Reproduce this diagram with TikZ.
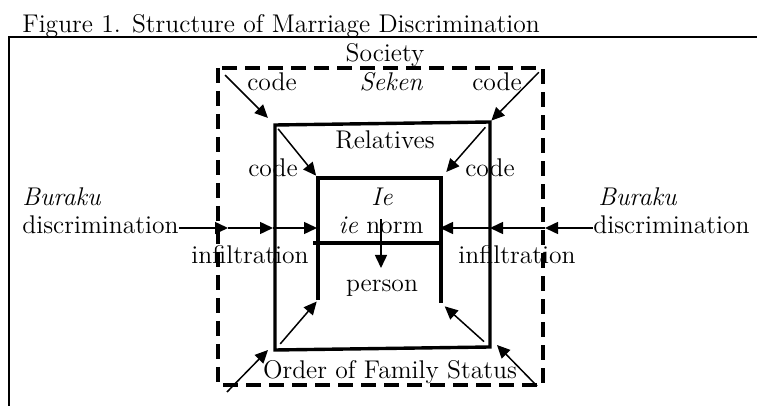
\documentclass[tikz,border=0pt]{standalone}
\usetikzlibrary{arrows.meta}

\begin{document}
\begin{tikzpicture}[x=0.5pt,y=-0.5pt,
  every node/.style={inner sep=0pt,font=\fontsize{12.8}{15}\selectfont},
  lbl/.style={anchor=base},
  lblw/.style={anchor=base west},
  box/.style={line width=1.7pt},
  soc/.style={line width=1.7pt,dash pattern=on 7.5pt off 4pt},
  arr/.style={line width=0.75pt,-{Triangle[length=6.5pt,width=6pt]}}]
\useasboundingbox (0,0) rectangle (757,406);

% frame and title
\draw[line width=1pt] (757,37) -- (9,37) -- (9,406);
\node[lblw] (title) at (22,33) {Figure 1. Structure of Marriage Discrimination};

% Society (dashed)
\coordinate (s1) at (218,68);
\coordinate (s2) at (543,68);
\coordinate (s3) at (543,385);
\draw[soc] (s1) rectangle (s3);

% Relatives
\coordinate (r1) at (275,125);
\coordinate (r2) at (490,122);
\coordinate (r3) at (490,347);
\coordinate (r4) at (275,350);
\draw[box] (r1) -- (r2) -- (r3) -- (r4) -- cycle;

% Ie
\coordinate (i1) at (318,178);
\coordinate (i2) at (441,178);
\coordinate (i3) at (441,303);
\coordinate (i4) at (318,300);
\draw[box] (i4) -- (i1) -- (i2) -- (i3);
\coordinate (m1) at (313,243);
\coordinate (m2) at (441,243);
\draw[box] (m1) -- (m2);

% labels
\node[lbl] (society) at (385,62) {Society};
\node[lbl] (seken) at (391,91) {\itshape Seken};
\node[lbl] (codeA) at (272,91) {code};
\node[lbl] (codeB) at (497,91) {code};
\node[lbl] (relatives) at (385,149) {Relatives};
\node[lbl] (codeC) at (273,177) {code};
\node[lbl] (codeD) at (490,177) {code};
\node[lbl] (ie) at (382,206) {\itshape Ie};
\node[lbl] (ienorm) at (381,234) {\textit{ie} norm};
\node[lbl] (person) at (382,292) {person};
\node[lblw] (burakuL) at (22,206) {\itshape Buraku};
\node[lblw] (discL) at (22,234) {discrimination};
\node[lblw] (burakuR) at (598,206) {\itshape Buraku};
\node[lblw] (discR) at (593,234) {discrimination};
\node[lbl] (infilL) at (250,264) {infiltration};
\node[lbl] (infilR) at (517,264) {infiltration};
\node[lbl] (order) at (390,379) {Order of Family Status};

% code arrows
\draw[arr,shorten <=5pt,shorten >=5pt] (s1) -- (r1);
\draw[arr,shorten <=3pt,shorten >=1pt] (s2) -- (r2);
\draw[arr,shorten <=2.5pt,shorten >=1.5pt] (r1) -- (i1);
\draw[arr,shorten <=3.5pt,shorten >=4pt] (r2) -- (i2);
\draw[arr,shorten <=4pt,shorten >=1pt] (r4) -- (i4);
\draw[arr,shorten <=4pt,shorten >=2.5pt] (r3) -- (i3);
\coordinate (b1) at (227,392);
\coordinate (b2) at (268,350);
\draw[arr] (b1) -- (b2);
\coordinate (b3) at (537,386);
\coordinate (b4) at (497,345);
\draw[arr] (b3) -- (b4);

% infiltration arrows
\coordinate (lA) at (228,228);
\coordinate (lB) at (273,228);
\coordinate (lC) at (317,228);
\draw[arr] (discL.east |- lA) -- (lA);
\draw[arr] (lA) -- (lB);
\draw[arr] (lB) -- (lC);
\coordinate (rA) at (545,228);
\coordinate (rB) at (490,228);
\coordinate (rC) at (440,228);
\draw[arr] (discR.west |- rA) -- (rA);
\draw[arr] (rA) -- (rB);
\draw[arr] (rB) -- (rC);

% ie norm to person
\coordinate (n1) at (381,219);
\coordinate (n2) at (381,268);
\draw[arr] (n1) -- (n2);
\end{tikzpicture}
\end{document}
